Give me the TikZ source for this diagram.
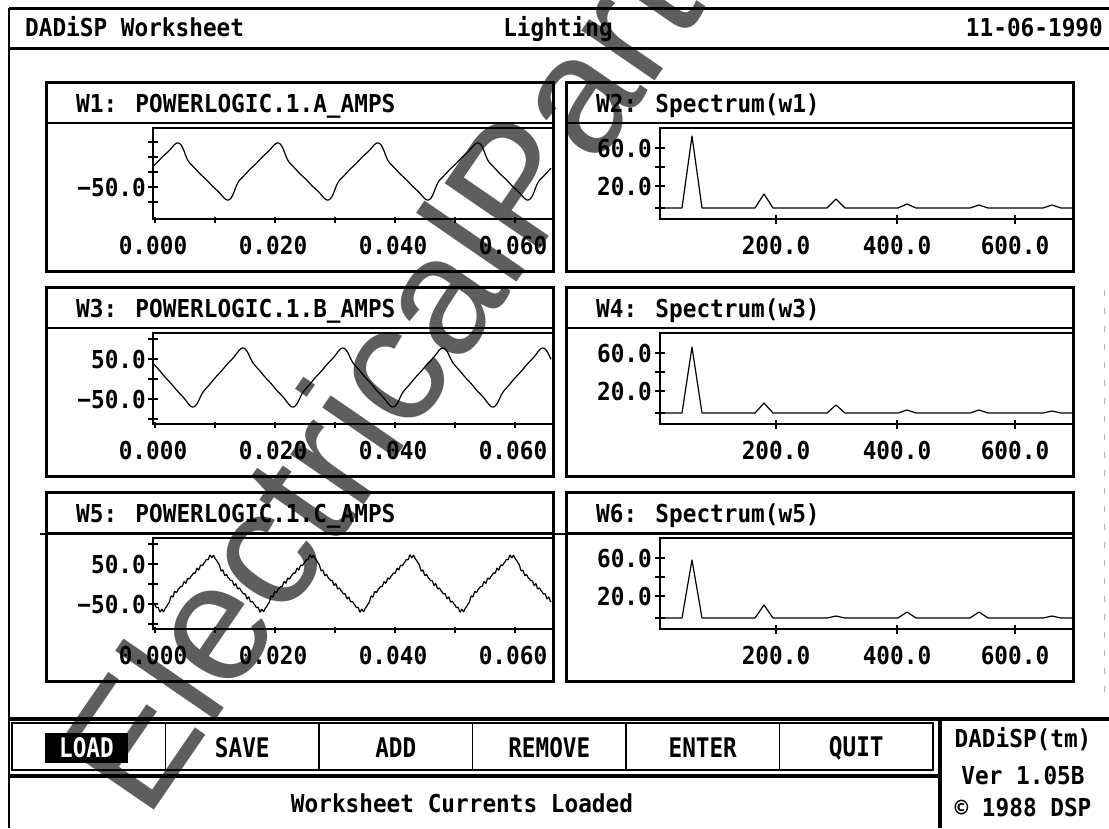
\documentclass[tikz,border=0pt]{standalone}
\usepackage{fontspec}
\newfontfamily\screenfont{DejaVu Sans Mono}[FakeStretch=0.92]
\newfontfamily\buttonfont{DejaVu Sans Mono}[FakeStretch=0.84]
\newfontfamily\markfont{Liberation Sans}
\definecolor{markgray}{HTML}{5E5E5E}
\tikzset{
    scrtext/.style={font=\screenfont\bfseries\fontsize{24.7}{26}\selectfont, inner sep=0pt},
    btntext/.style={font=\buttonfont\bfseries\fontsize{27}{28}\selectfont, inner sep=0pt},
    frame/.style={line width=3pt},
    rule/.style={line width=2pt},
    axis/.style={line width=1.5pt},
    trace/.style={line width=1.2pt, line join=round},
}

\begin{document}
\begin{tikzpicture}[x=1pt, y=-1pt,
        declare function={tri(\q)=sin(\q)-sin(3*\q)/9+sin(5*\q)/25-sin(7*\q)/49;
                          kink(\q,\k)=tri(\q)+\k*tanh(5*cos(\q-25));
                          ph(\u,\p)=mod((\u-\p)*3.6+90,360);}]
    \useasboundingbox (0,0) rectangle (1109,828);
    % watermark (under the screen)
    \node[rotate=55.5, anchor=base west, inner sep=0pt, text=markgray,
          font=\markfont\fontsize{168}{168}\selectfont] (wmark) at (146,822) {ElectricalPartManuals};

    % screen border and header
    \draw[line width=1.5pt] (9,8) -- (9,828);
    \draw[frame] (9,8) -- (1109,8);
    \draw[frame] (9,48) -- (1109,48);
    \node[scrtext, anchor=base west] (sheet) at (25,36) {DADiSP Worksheet};
    \node[scrtext, anchor=base] (title) at (558,36) {Lighting};
    \node[scrtext, anchor=base east] (date) at (1103,36) {11-06-1990};
    \draw[gray!60, line width=1pt, dash pattern=on 6pt off 12pt] (1104,290) -- (1104,700);

    % six windows
    \foreach \rt/\a/\b/\c in {82/1/2/A, 287/3/4/B, 492/5/6/C} {
        \draw[frame] (46,\rt) rectangle (553,\rt+189);
        \draw[frame] (566,\rt) rectangle (1073,\rt+189);
        \draw[rule] (46,\rt+41) -- (553,\rt+41);
        \draw[rule] (566,\rt+41) -- (1073,\rt+41);
        \node[scrtext, anchor=base west] (w\a) at (76,\rt+30) {W\a: POWERLOGIC.1.\c\_AMPS};
        \node[scrtext, anchor=base west] (w\b) at (596,\rt+30) {W\b: Spectrum(w\a)};
        % time axes
        \draw[axis] (552,\rt+46) -- (153,\rt+46) -- (153,\rt+137) -- (552,\rt+137);
        \foreach \k in {0,...,6}
            \draw[axis] ({155+60*\k},\rt+135) -- ++(0,6);
        \foreach \v [count=\k from 0] in {0.000,0.020,0.040,0.060}
            \node[scrtext, anchor=base] (tx\a-\k) at ({153+120*\k},\rt+172) {\v};
        % spectrum axes
        \draw[axis] (1072,\rt+46) -- (660,\rt+46) -- (660,\rt+137) -- (1072,\rt+137);
        \foreach \d in {66,85,104,126}
            \draw[axis] (655,\rt+\d) -- (665,\rt+\d);
        \node[scrtext, anchor=base east] (fa\b) at (652,\rt+75) {60.0};
        \node[scrtext, anchor=base east] (fb\b) at (652,\rt+113) {20.0};
        \foreach \f/\v [count=\k] in {776/200.0, 897/400.0, 1015/600.0} {
            \draw[axis] (\f,\rt+133) -- (\f,\rt+142);
            \node[scrtext, anchor=base] (fx\b-\k) at (\f,\rt+172) {\v};
        }
    }
    \draw[rule] (40,534) -- (1073,534);

    % amplitude ticks and labels
    \foreach \d in {60,75,90,105,120}
        \draw[axis] (148,82+\d) -- (158,82+\d);
    \node[scrtext, anchor=base east] (ya1) at (146,196) {−50.0};
    \foreach \rt/\a in {287/3, 492/5} {
        \foreach \d in {52,72,92,112,132}
            \draw[axis] (148,\rt+\d) -- (158,\rt+\d);
        \node[scrtext, anchor=base east] (yp\a) at (146,\rt+81) {50.0};
        \node[scrtext, anchor=base east] (ym\a) at (146,\rt+121) {−50.0};
    }

    % current traces
    \draw[trace] plot[domain=154:551, samples=400]
        (\x, {171.5-20.2*kink(ph(\x,178),0.25)});
    \draw[trace] plot[domain=154:551, samples=400]
        (\x, {377.5-22.9*kink(ph(\x,243),0.12)});
    \draw[trace] plot[domain=154:551, samples=500]
        (\x, {583.5-20.8*(kink(ph(\x,212),0.15)+0.05*sin(23*ph(\x,212))+0.04*sin(31*ph(\x,212)+40))});

    % spectra
    \foreach \rt/\hm/\ha/\hb/\hc/\hd/\he in {82/72/14/9/4/3/3, 287/66/10/8/3/3/2, 492/58/13/2/6/6/2} {
        \draw[trace] (661,\rt+126) -- (682,\rt+126) -- (692,{\rt+126-\hm}) -- (702,\rt+126)
            -- (755,\rt+126) -- (764,{\rt+126-\ha}) -- (773,\rt+126)
            -- (827,\rt+126) -- (836,{\rt+126-\hb}) -- (845,\rt+126)
            -- (898,\rt+126) -- (907,{\rt+126-\hc}) -- (916,\rt+126)
            -- (970,\rt+126) -- (979,{\rt+126-\hd}) -- (988,\rt+126)
            -- (1043,\rt+126) -- (1052,{\rt+126-\he}) -- (1061,\rt+126) -- (1072,\rt+126);
    }

    % menu bar and status line
    \draw[line width=4pt] (9,719) -- (1109,719);
    \draw[line width=1.5pt] (12,723) rectangle (933,770);
    \foreach \k in {1,...,5}
        \draw[line width=1.5pt] ({12+153.5*\k},723) -- ({12+153.5*\k},770);
    \draw[line width=4pt] (9,776) -- (940,776);
    \draw[line width=4pt] (940,719) -- (940,828);
    \node[btntext, fill=black, text=white, minimum width=83pt, minimum height=30pt] (load) at (86.5,748) {LOAD};
    \foreach \lbl [count=\k] in {SAVE,ADD,REMOVE,ENTER,QUIT}
        \node[btntext] (btn\k) at ({12+153.5*(\k+0.5)},748) {\lbl};
    \node[scrtext, anchor=base] (status) at (462,812) {Worksheet Currents Loaded};
    \node[scrtext, anchor=base] (brand) at (1023,747) {DADiSP(tm)};
    \node[scrtext, anchor=base] (version) at (1023,784) {Ver 1.05B};
    \node[scrtext, anchor=base] (copyr) at (1023,816) {© 1988 DSP};
\end{tikzpicture}
\end{document}
